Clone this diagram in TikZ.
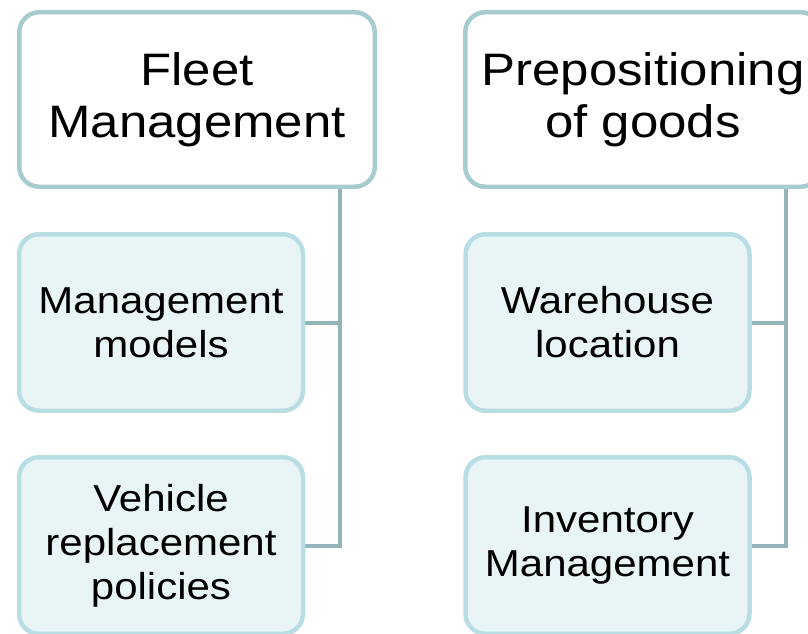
\documentclass[tikz,border=0pt]{standalone}
\usepackage{fontspec}
\setmainfont[FakeStretch=1.12]{Liberation Sans}
\usetikzlibrary{backgrounds}
\definecolor{topb}{RGB}{167,204,208}
\definecolor{childb}{RGB}{184,222,227}
\definecolor{childf}{RGB}{233,244,246}
\definecolor{connc}{RGB}{148,180,185}
\begin{document}
\begin{tikzpicture}[x=1pt,y=-1pt,
  topbox/.style={draw=topb, line width=4.5pt, fill=white, rounded corners=20pt,
    minimum width=355.5pt, minimum height=174.5pt, inner sep=0pt, align=center,
    font=\fontsize{45.5}{52}\selectfont},
  childbox/.style={draw=childb, line width=4.5pt, fill=childf, rounded corners=20pt,
    minimum width=284pt, minimum height=176.5pt, inner sep=0pt, align=center,
    font=\fontsize{37.5}{44}\selectfont},
  conn/.style={draw=connc, line width=4pt}]
\useasboundingbox (0,0) rectangle (808,634);
\coordinate (lj) at (340,0);
\coordinate (rj) at (786,0);
\node[childbox] (mm) at (161,322.5) {Management\\models};
\node[childbox] (vr) at (161,545.5) {Vehicle\\replacement\\policies};
\node[childbox] (wl) at (607.5,322.5) {Warehouse\\location};
\node[childbox] (im) at (607.5,545.5) {Inventory\\Management};
\node[topbox] (fm) at (197,99.5) {Fleet\\Management};
\node[topbox] (pg) at (643,99.5) {Prepositioning\\of goods};
\begin{scope}[on background layer]
\draw[conn] (fm.south -| lj) |- (vr.east);
\draw[conn] (mm.east) -- (mm.east -| lj);
\draw[conn] (pg.south -| rj) |- (im.east);
\draw[conn] (wl.east) -- (wl.east -| rj);
\end{scope}
\end{tikzpicture}
\end{document}
